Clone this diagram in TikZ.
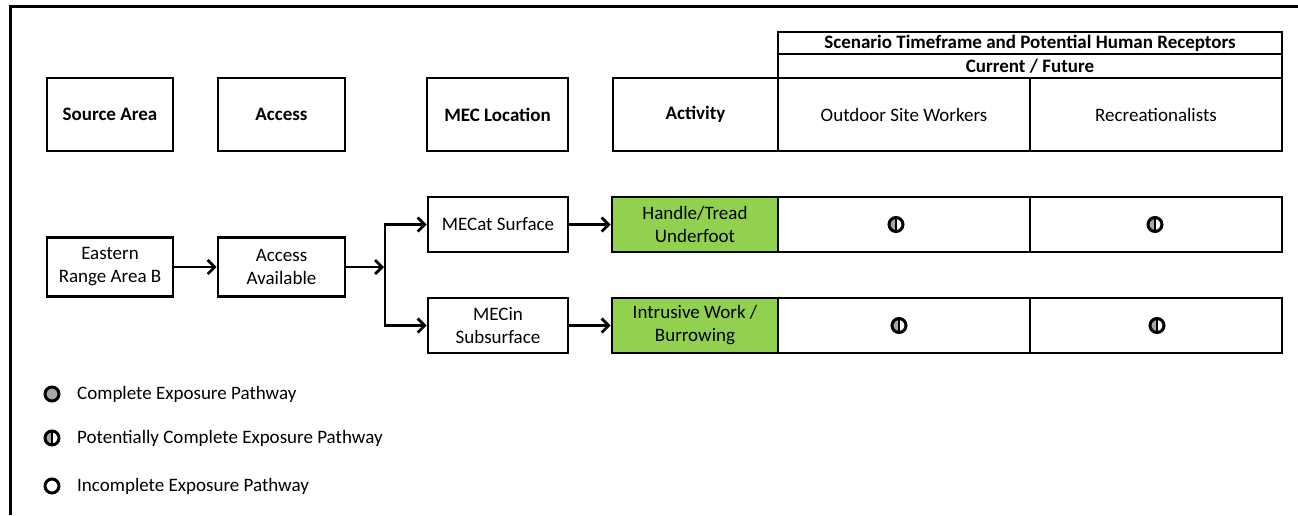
\documentclass[tikz,border=0pt]{standalone}
\usepackage{fontspec}
\setmainfont{Carlito}
\usetikzlibrary{arrows.meta}
\definecolor{grn}{HTML}{92D050}
\definecolor{symgray}{HTML}{A6A6A6}
\begin{document}
\begin{tikzpicture}[x=1pt,y=-1pt,
  every node/.style={font=\fontsize{19}{23}\selectfont},
  hdrbox/.style={draw, line width=2.6pt, inner sep=0pt, minimum height=73pt, font=\bfseries\fontsize{19}{23}\selectfont},
  rcpbox/.style={draw, line width=2.6pt, inner sep=0pt, minimum height=73pt, minimum width=252pt},
  topbox/.style={draw, line width=2.6pt, inner sep=0pt, minimum width=504pt, font=\bfseries\fontsize{19}{23}\selectfont},
  cell/.style={draw, line width=2.6pt, inner sep=0pt, align=center},
  grncell/.style={cell, fill=grn, minimum width=166pt, minimum height=55pt},
  rcell/.style={cell, minimum width=252pt, minimum height=55pt},
  conn/.style={line width=2.8pt, -{Straight Barb[length=7pt,width=14pt,line width=2.8pt]}},
  plain/.style={line width=2.8pt},
  pcsym/.style={circle, draw, line width=3pt, minimum size=14pt, inner sep=0pt,
    path picture={\fill[symgray] (path picture bounding box.south west) rectangle (path picture bounding box.north);
      \draw[line width=2pt] (path picture bounding box.north) -- (path picture bounding box.south);}},
  csym/.style={circle, draw, line width=3pt, minimum size=14pt, inner sep=0pt, fill=symgray},
  isym/.style={circle, draw, line width=3pt, minimum size=14pt, inner sep=0pt, fill=white},
  legtxt/.style={anchor=west, inner sep=0pt}
]
\useasboundingbox (0,0) rectangle (1298,515);
% frame
\coordinate (fbl) at (10.5,515);
\coordinate (ftl) at (10.5,6.5);
\coordinate (ftr) at (1298,6.5);
\draw[line width=3.5pt] (fbl) -- (ftl) -- (ftr);

% header row
\node[hdrbox, minimum width=126pt] (hsrc) at (110,114.5) {Source Area};
\node[hdrbox, minimum width=127pt] (hacc) at (281.5,114.5) {Access};
\node[hdrbox, minimum width=141pt] (hmec) at (497.5,114.5) {MEC Location};
\node[hdrbox, minimum width=165pt] (hact) at (695.5,114.5) {Activity};
\node[rcpbox] (hosw) at (904,114.5) {Outdoor Site Workers};
\node[rcpbox] (hrec) at (1156,114.5) {Recreationalists};
\node[topbox, minimum height=22pt] (scen) at (1030,43) {Scenario Timeframe and Potential Human Receptors};
\node[topbox, minimum height=24pt] (curr) at (1030,66) {Current / Future};

% flow boxes
\node[cell, minimum width=126pt, minimum height=59pt] (east) at (110,267) {Eastern\\Range Area B};
\node[cell, minimum width=127pt, minimum height=59pt] (avail) at (281.5,267) {Access\\Available};
\node[cell, minimum width=140pt, minimum height=55pt] (msurf) at (498,224.5) {MECat Surface};
\node[cell, minimum width=140pt, minimum height=55pt] (msub) at (498,325.5) {MECin\\Subsurface};
\node[grncell] (handle) at (695,224.5) {Handle/Tread\\Underfoot};
\node[rcell] (c11) at (904,224.5) {};
\node[rcell] (c12) at (1156,224.5) {};
\node[grncell] (intr) at (695,325.5) {Intrusive Work /\\Burrowing};
\node[rcell] (c21) at (904,325.5) {};
\node[rcell] (c22) at (1156,325.5) {};

% symbols in table
\node[pcsym] (s11) at (896,224.5) {};
\node[pcsym] (s12) at (1155,224.5) {};
\node[pcsym] (s21) at (899,325.5) {};
\node[pcsym] (s22) at (1157,325.5) {};

% connectors
\coordinate (brm) at (385,267);
\coordinate (brt) at (385,224.5);
\coordinate (brb) at (385,325.5);
\draw[conn] (east.east) -- (avail.west);
\draw[conn, shorten >=1pt] (avail.east) -- (brm);
\draw[plain] ([yshift=-1.4pt]brt) -- ([yshift=1.4pt]brb);
\draw[conn] ([xshift=-1.4pt]brt) -- (msurf.west);
\draw[conn] ([xshift=-1.4pt]brb) -- (msub.west);
\draw[conn] (msurf.east) -- (handle.west);
\draw[conn] (msub.east) -- (intr.west);

% legend
\node[csym] (lg1) at (52,394) {};
\node[legtxt] (lt1) at (77,394) {Complete Exposure Pathway};
\node[pcsym] (lg2) at (52,438) {};
\node[legtxt] (lt2) at (77,438) {Potentially Complete Exposure Pathway};
\node[isym] (lg3) at (52,486) {};
\node[legtxt] (lt3) at (77,486) {Incomplete Exposure Pathway};
\end{tikzpicture}
\end{document}
